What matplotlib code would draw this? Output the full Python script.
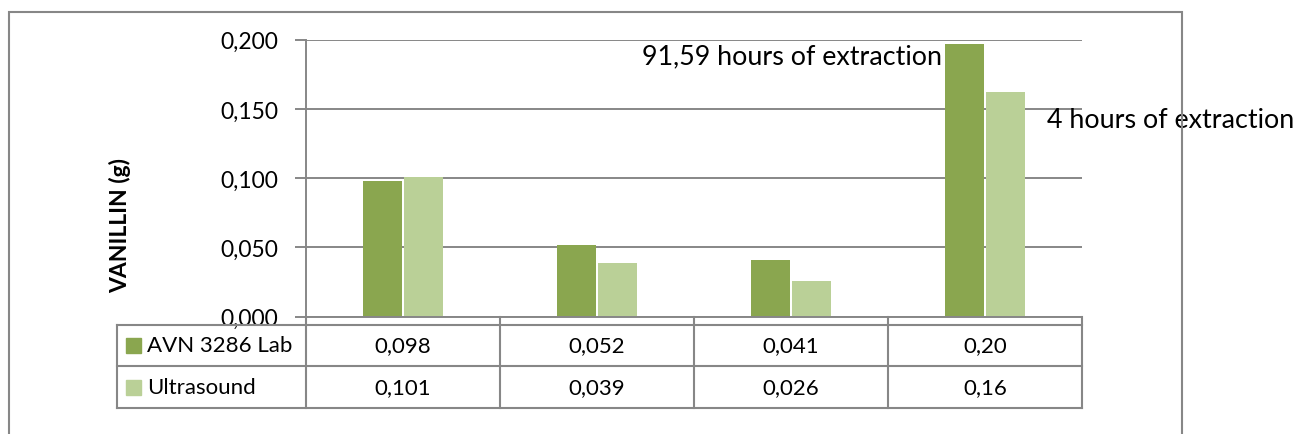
import numpy as np
import matplotlib.pyplot as plt
from matplotlib.patches import Rectangle
from matplotlib.lines import Line2D
from matplotlib.transforms import blended_transform_factory

plt.rcParams['font.family'] = ['Lato', 'DejaVu Sans']

# vanillin yield per sample, two extraction methods
series_names = ['AVN 3286 Lab', 'Ultrasound']
avn_lab = [0.098, 0.052, 0.041, 0.197]
ultrasound = [0.101, 0.039, 0.026, 0.162]
table_decimals = [3, 3, 3, 2]
y_ticks = [0.0, 0.05, 0.10, 0.15, 0.20]
note_long = '91,59 hours of extraction'
note_short = '4 hours of extraction'

dark = '#8aa64f'
light = '#bad097'
grey = '#878787'

W, H = 1298, 435
fig = plt.figure(figsize=(W / 100, H / 100), dpi=100)


def fx(px):
    return px / W


def fy(py):
    return 1 - py / H


ax = fig.add_axes([fx(306), fy(317.7), fx(1082) - fx(306), fy(40.7) - fy(317.7)])
x = np.arange(len(avn_lab))
ax.bar(x - 0.105, avn_lab, 0.2, color=dark, zorder=2)
ax.bar(x + 0.105, ultrasound, 0.2, color=light, zorder=2)
ax.set_xlim(-0.5, len(x) - 0.5)
ax.set_ylim(0, 0.2)
ax.set_yticks(y_ticks)
ax.set_yticklabels([f'{t:.3f}'.replace('.', ',') for t in y_ticks], fontsize=16.5)
ax.set_xticks([])
ax.yaxis.grid(True, color=grey, lw=1.4, zorder=0)
ax.tick_params(axis='y', length=8, width=1.4, color=grey, pad=12)
for side in ['top', 'right']:
    ax.spines[side].set_visible(False)
for side in ['left', 'bottom']:
    ax.spines[side].set_color(grey)
    ax.spines[side].set_linewidth(1.4)

# notes beside the last pair of bars
ax.text(3 - 0.22, 0.1885, note_long, ha='right', va='center', fontsize=19.4)
ax.text(3.32, 0.1425, note_short, ha='left', va='center', fontsize=19.4)

fig.text(fx(120), fy(226), 'VANILLIN (g)', rotation=90, ha='center', va='center',
         fontsize=16.5, fontweight='bold')

# data table under the axis
tr = blended_transform_factory(ax.transData, fig.transFigure)
line_kw = dict(color=grey, lw=1.5)
for py in [326, 367, 409]:
    fig.add_artist(Line2D([fx(117), fx(1082)], [fy(py), fy(py)], **line_kw))
fig.add_artist(Line2D([fx(117), fx(117)], [fy(326), fy(409)], **line_kw))
for b in np.arange(len(x) + 1) - 0.5:
    fig.add_artist(Line2D([b, b], [fy(318), fy(409)], transform=tr, **line_kw))

row_y = [346, 388]
for name, vals, color, py in zip(series_names, [avn_lab, ultrasound], [dark, light], row_y):
    fig.add_artist(Rectangle((fx(126), fy(py + 8)), fx(15), 15 / H, color=color))
    fig.text(fx(147), fy(py), name, ha='left', va='center', fontsize=16)
    for i, (v, d) in enumerate(zip(vals, table_decimals)):
        fig.text(i, fy(py), f'{v:.{d}f}'.replace('.', ','), transform=tr,
                 ha='center', va='center', fontsize=16)

# chart frame
fig.add_artist(Rectangle((fx(9), -0.1), fx(1182) - fx(9), fy(13) + 0.1,
                         fill=False, ec=grey, lw=1.5))

fig.savefig('out.png', dpi=100)
